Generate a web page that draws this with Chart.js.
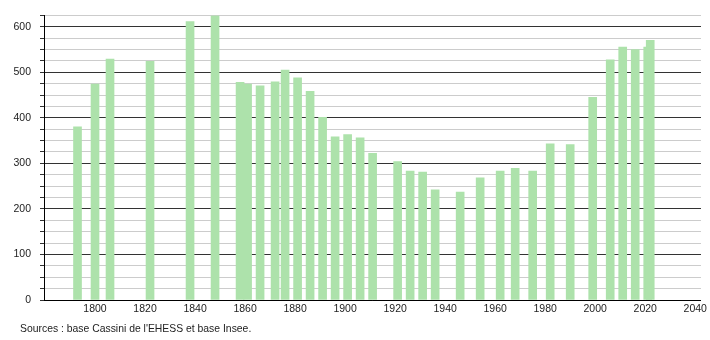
<!DOCTYPE html>
<html>
<head>
<meta charset="utf-8">
<script src="https://cdn.jsdelivr.net/npm/chart.js@4/dist/chart.umd.min.js"></script>
<style>
  html, body { margin: 0; padding: 0; background: #fff; }
  #wrap { position: relative; width: 710px; height: 340px; }
  #note {
    position: absolute; left: 20px; top: 323px;
    font: 10.4px "Liberation Sans", Arial, sans-serif; color: #222;
    white-space: nowrap;
  }
</style>
</head>
<body>
<div id="wrap">
  <canvas id="pop" width="710" height="340"></canvas>
  <div id="note">Sources : base Cassini de l'EHESS et base Insee.</div>
</div>
<script>
// --- Data ---
const years = [1793, 1800, 1806, 1822, 1838, 1848, 1858, 1861, 1866, 1872, 1876, 1881,
  1886, 1891, 1896, 1901, 1906, 1911, 1921, 1926, 1931, 1936, 1946, 1954, 1962,
  1968, 1975, 1982, 1990, 1999, 2006, 2011, 2016, 2021, 2022];
const population = [380, 474, 529, 524, 611, 624, 478, 474, 470, 479, 505, 488,
  458, 401, 358, 363, 356, 322, 304, 283, 281, 242, 237, 268, 283,
  289, 283, 343, 341, 445, 527, 555, 550, 555, 570];
const xTicks = [1800, 1820, 1840, 1860, 1880, 1900, 1920, 1940, 1960, 1980, 2000, 2020, 2040];

const font = { family: "'Liberation Sans', Arial, sans-serif", size: 10.5 };

// --- Chart ---
const ctx = document.getElementById("pop").getContext("2d");
new Chart(ctx, {
  type: "bar",
  data: {
    datasets: [{
      data: years.map((y, i) => ({ x: y, y: population[i] })),
      backgroundColor: "#ade2ab",
      barThickness: 8
    }]
  },
  options: {
    responsive: false,
    animation: false,
    layout: { padding: { top: 10, right: 9, left: 0, bottom: 0 } },
    plugins: { legend: { display: false }, tooltip: { enabled: false } },
    scales: {
      x: {
        type: "linear",
        offset: false,
        min: 1779.6,
        max: 2042.3,
        afterBuildTicks: s => { s.ticks = xTicks.map(v => ({ value: v })); },
        afterFit: s => { s.height = 40; },
        grid: { display: false, drawTicks: false },
        border: { color: "#000", width: 1 },
        ticks: { font, color: "#222", maxRotation: 0, autoSkip: false, padding: 3,
          callback: v => String(v) }
      },
      y: {
        min: 0,
        max: 625,
        afterFit: s => { s.width = 44; },
        ticks: {
          stepSize: 25,
          autoSkip: false,
          font, color: "#222", padding: 9,
          callback: v => (v % 100 === 0 ? String(v) : "")
        },
        grid: {
          color: c => (c.tick && c.tick.value % 100 === 0 ? "#333" : "#ccc"),
          tickColor: "#333",
          tickLength: 4
        },
        border: { color: "#000", width: 1 }
      }
    }
  }
});
</script>
</body>
</html>
